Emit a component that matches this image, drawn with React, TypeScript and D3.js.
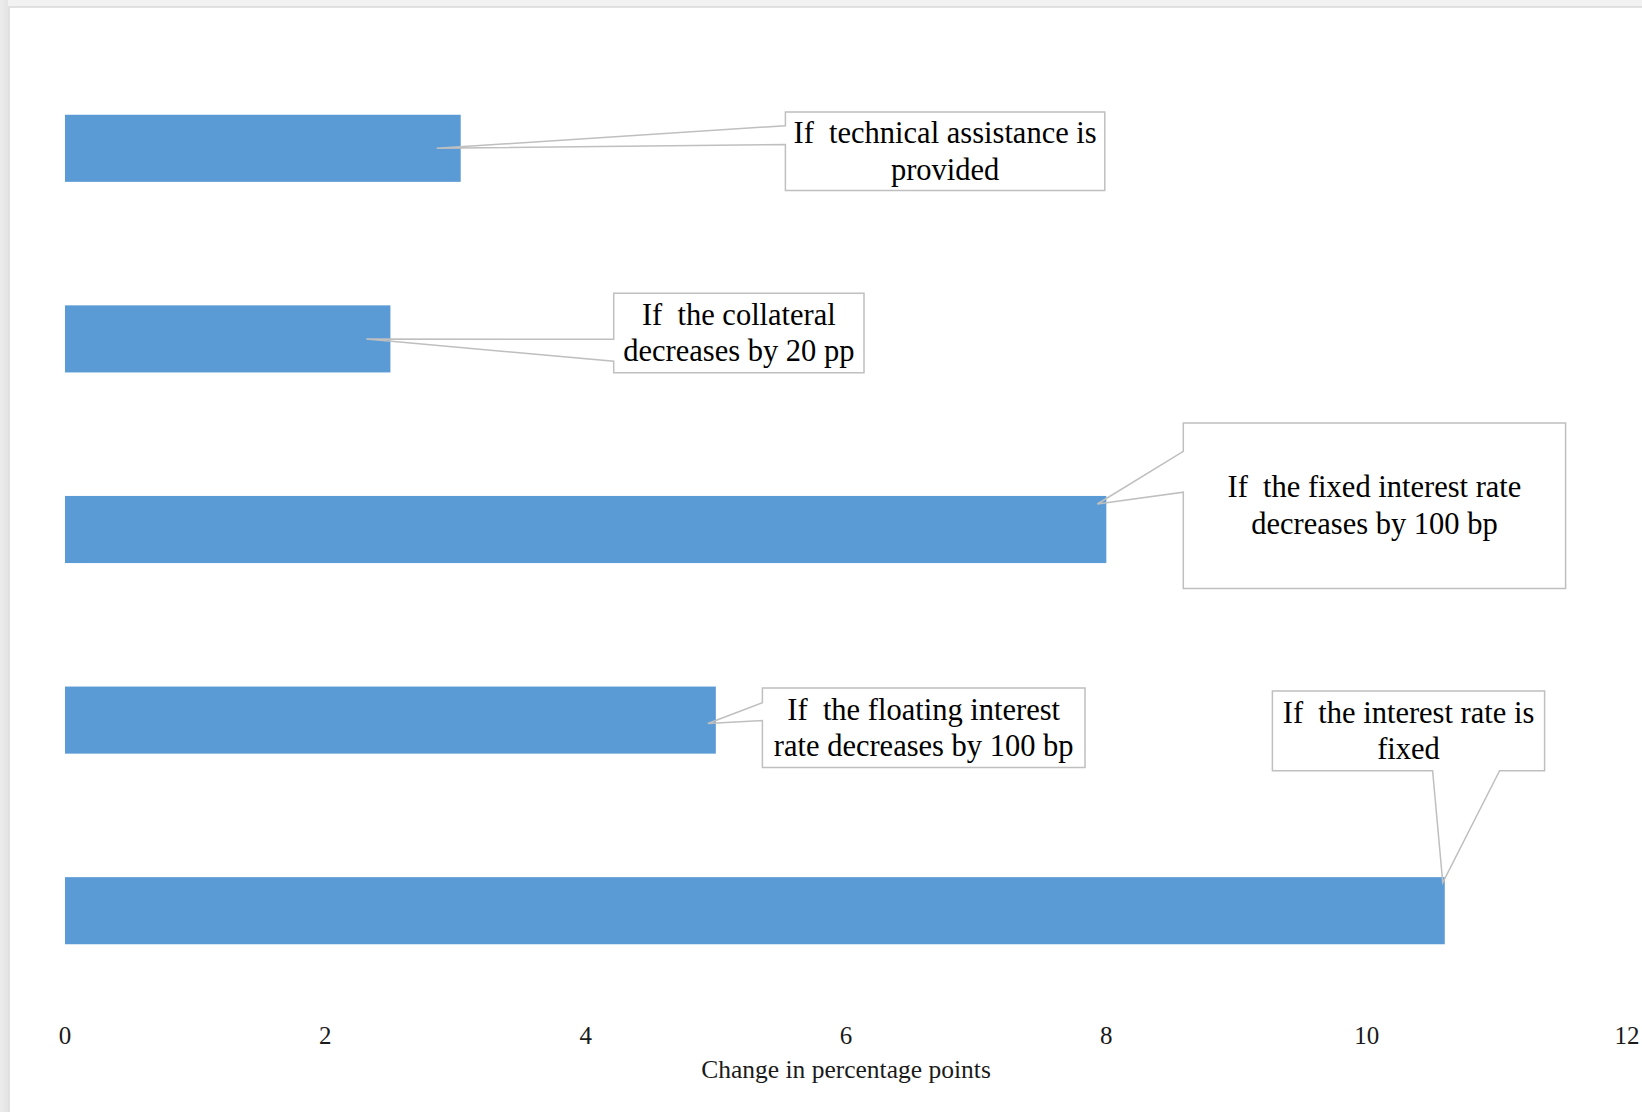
import React from "react";
import * as d3 from "d3";

// ---- data ----
const categories = [
  "If technical assistance is provided",
  "If the collateral decreases by 20 pp",
  "If the fixed interest rate decreases by 100 bp",
  "If the floating interest rate decreases by 100 bp",
  "If the interest rate is fixed",
];
const labelLines = [
  ["If\u00a0 technical assistance is", "provided"],
  ["If\u00a0 the collateral", "decreases by 20 pp"],
  ["If\u00a0 the fixed interest rate", "decreases by 100 bp"],
  ["If\u00a0 the floating interest", "rate decreases by 100 bp"],
  ["If\u00a0 the interest rate is", "fixed"],
];
const values = [3.04, 2.5, 8.0, 5.0, 10.6];
const xTicks = [0, 2, 4, 6, 8, 10, 12];
const xTitle = "Change in percentage points";

// ---- layout (pixels) ----
const W = 1642;
const H = 1112;
const BAR = "#5b9bd5";
const CALLOUT_STROKE = "#bfbfbf";
const FONT = "'Liberation Serif', 'DejaVu Serif', serif";

// callout boxes: [x0, y0, x1, y1], wedge side, base points, tip offset from bar end / band top
const callouts = [
  { box: [785.4, 112, 1104.8, 190.6], side: "left", base: [125.7, 144.5], tipDx: -24, tipDy: 0.5 },
  { box: [613.7, 293.2, 864, 372.8], side: "left", base: [339.3, 361.3], tipDx: -24, tipDy: 0.5 },
  { box: [1183.3, 423, 1565.6, 588.5], side: "left", base: [451.3, 492.2], tipDx: -9, tipDy: 0.12 },
  { box: [762.4, 688, 1085, 767.6], side: "left", base: [702.7, 720.5], tipDx: -8, tipDy: 0.55 },
  { box: [1272.4, 691, 1544.6, 770.7], side: "bottom", base: [1432.6, 1499.6], tipDx: -2, tipDy: 0.08 },
];

export default function App() {
  const x = d3.scaleLinear().domain([0, 12]).range([65, 1627]);
  const y = d3
    .scaleBand<string>()
    .domain(categories)
    .range([53, 1006])
    .paddingInner(0.648)
    .paddingOuter(0.324);

  const calloutPath = (c: any, tip: [number, number]) => {
    const [x0, y0, x1, y1] = c.box;
    const p = d3.path();
    if (c.side === "left") {
      p.moveTo(x0, y0);
      p.lineTo(x1, y0);
      p.lineTo(x1, y1);
      p.lineTo(x0, y1);
      p.lineTo(x0, c.base[1]);
      p.lineTo(tip[0], tip[1]);
      p.lineTo(x0, c.base[0]);
      p.closePath();
    } else {
      p.moveTo(x0, y0);
      p.lineTo(x1, y0);
      p.lineTo(x1, y1);
      p.lineTo(c.base[1], y1);
      p.lineTo(tip[0], tip[1]);
      p.lineTo(c.base[0], y1);
      p.lineTo(x0, y1);
      p.closePath();
    }
    return p.toString();
  };

  return (
    <svg
      width={W}
      height={H}
      style={{ position: "absolute", left: 0, top: 0, display: "block" }}
      xmlns="http://www.w3.org/2000/svg"
    >
      <defs>
        <linearGradient id="leftStrip" x1="0" x2="1" y1="0" y2="0">
          <stop offset="0" stopColor="#ececec" />
          <stop offset="1" stopColor="#e4e4e4" />
        </linearGradient>
      </defs>
      <rect x={0} y={0} width={W} height={H} fill="#f2f2f2" />
      <rect x={0} y={0} width={8} height={H} fill="url(#leftStrip)" />
      <rect x={9} y={7} width={W} height={H} fill="#ffffff" stroke="#d9d9d9" strokeWidth={1.5} />

      {/* bars */}
      {categories.map((c, i) => (
        <rect
          key={c}
          x={x(0)}
          y={y(c)!}
          width={x(values[i]) - x(0)}
          height={y.bandwidth()}
          fill={BAR}
        />
      ))}

      {/* callouts */}
      {categories.map((c, i) => {
        const co = callouts[i];
        const tip: [number, number] = [
          x(values[i]) + co.tipDx,
          y(c)! + y.bandwidth() * co.tipDy,
        ];
        const [x0, y0, x1, y1] = co.box;
        const cx = (x0 + x1) / 2;
        const cy = (y0 + y1) / 2;
        const lines = labelLines[i];
        const lh = 36.6;
        return (
          <g key={"co" + c}>
            <rect x={x0} y={y0} width={x1 - x0} height={y1 - y0} fill="#ffffff" />
            <path d={calloutPath(co, tip)} fill="none" stroke={CALLOUT_STROKE} strokeWidth={1.5} />
            {lines.map((t, j) => (
              <text
                key={j}
                x={cx}
                y={cy + (j - (lines.length - 1) / 2) * lh + 10}
                textAnchor="middle"
                fontFamily={FONT}
                fontSize={30.5}
                fill="#000000"
              >
                {t}
              </text>
            ))}
          </g>
        );
      })}

      {/* x axis tick labels */}
      {xTicks.map((t) => (
        <text
          key={t}
          x={x(t)}
          y={1044}
          textAnchor="middle"
          fontFamily={FONT}
          fontSize={25}
          fill="#1a1a1a"
        >
          {t}
        </text>
      ))}
      <text
        x={x(6)}
        y={1078}
        textAnchor="middle"
        fontFamily={FONT}
        fontSize={25.5}
        fill="#1a1a1a"
      >
        {xTitle}
      </text>
    </svg>
  );
}
